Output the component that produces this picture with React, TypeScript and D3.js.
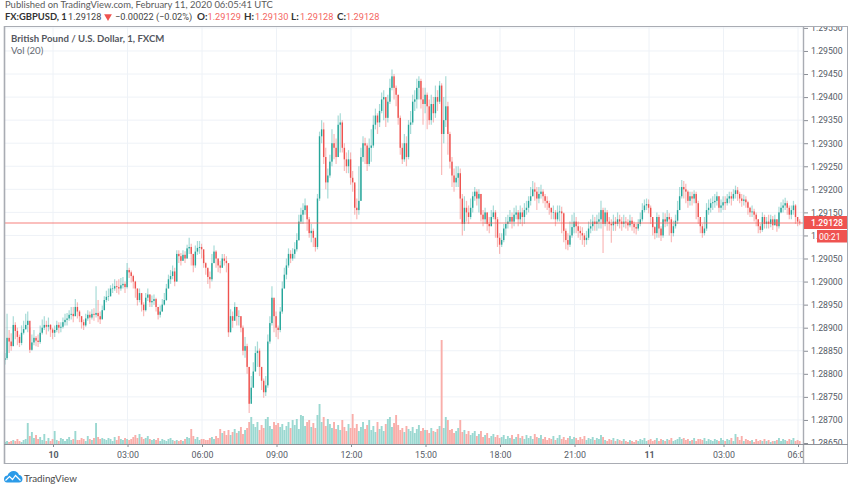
import React, { useEffect, useRef } from 'react';
import * as d3 from 'd3';

// 5 minute bars, in points above 1.28000
const closes = [
  834,878,870,860,906,893,880,867,889,897,906,915,852,868,878,872,869,889,900,906,902,906,896,889,
  895,906,900,902,912,917,920,928,930,925,945,935,
  925,912,905,920,928,922,930,928,932,925,918,938,
  960,967,968,985,985,990,988,985,992,995,988,1025,
  1020,1012,1000,985,960,975,950,938,965,972,955,958,
  962,945,928,935,950,960,985,1005,1012,1022,1000,1060,
  1055,1045,1058,1050,1072,1075,1060,1035,1065,1073,1075,1070,
  1040,1030,1010,1005,1040,1065,1050,1035,1030,1050,1045,1040,
  890,925,915,945,925,925,900,850,860,815,735,770,
  805,845,850,815,785,760,775,870,910,965,925,900,
  895,935,985,1015,1035,1060,1050,1060,1070,1090,1130,1145,
  1155,1165,1135,1105,1110,1095,1075,1180,1315,1330,1270,1215,
  1230,1260,1300,1290,1270,1340,1345,1290,1265,1250,1265,1225,
  1215,1160,1155,1175,1270,1300,1295,1255,1290,1295,1340,1360,
  1345,1370,1395,1400,1355,1390,1420,1445,1420,1405,1355,1290,
  1265,1300,1270,1340,1345,1390,1395,1420,1435,1395,1385,1405,
  1380,1350,1385,1365,1400,1390,1425,1320,1350,1380,1320,1260,
  1230,1215,1225,1235,1180,1125,1160,1150,1140,1160,1185,1195,
  1180,1190,1145,1135,1150,1125,1120,1140,1150,1135,1095,1080,
  1090,1115,1125,1130,1140,1130,1145,1150,1135,1150,1140,1155,
  1160,1175,1185,1200,1195,1180,1190,1195,1185,1175,1170,1160,
  1150,1150,1135,1150,1152,1148,1110,1090,1080,1100,1118,1130,
  1120,1110,1105,1100,1090,1095,1115,1120,1130,1125,1130,1135,
  1155,1125,1150,1130,1125,1122,1130,1125,1135,1130,1125,1130,
  1128,1122,1132,1125,1118,1115,1125,1135,1155,1165,1168,1160,
  1140,1118,1105,1140,1115,1100,1135,1130,1140,1135,1105,1120,
  1132,1155,1185,1205,1200,1195,1175,1185,1180,1190,1170,1140,
  1120,1105,1115,1155,1160,1170,1172,1175,1185,1160,1165,1172,
  1170,1180,1185,1180,1190,1198,1190,1180,1175,1178,1172,1160,
  1150,1152,1145,1135,1120,1112,1140,1125,1130,1125,1135,1122,
  1135,1120,1150,1160,1165,1170,1160,1145,1155,1165,1140,1130,1128,
];
const highs = [
  845,930,895,888,925,912,900,885,905,915,930,935,900,885,895,882,885,905,918,925,915,922,908,900,
  905,915,912,912,922,930,932,938,945,945,962,955,
  938,925,918,930,938,935,940,942,990,960,935,948,
  968,980,985,992,996,1005,1002,1005,1008,1010,1000,1040,
  1030,1024,1015,1002,985,985,975,955,975,985,972,970,
  972,965,945,948,962,975,995,1015,1025,1035,1030,1068,
  1068,1062,1068,1066,1080,1095,1082,1060,1078,1088,1088,1082,
  1058,1042,1028,1022,1060,1078,1068,1050,1045,1060,1060,1055,
  960,940,935,955,945,938,925,905,880,865,815,795,
  825,860,870,855,815,790,795,885,925,990,960,935,
  905,945,1000,1030,1050,1072,1068,1072,1085,1105,1145,1160,
  1170,1180,1165,1140,1125,1115,1095,1190,1325,1350,1345,1290,
  1245,1275,1330,1320,1310,1360,1365,1350,1300,1280,1285,1280,
  1240,1210,1180,1250,1290,1315,1312,1300,1310,1330,1360,1375,
  1365,1385,1410,1415,1395,1405,1440,1460,1450,1425,1405,1360,
  1300,1320,1315,1350,1370,1405,1415,1440,1445,1440,1420,1420,
  1410,1395,1405,1400,1425,1415,1435,1430,1400,1445,1390,1325,
  1270,1245,1250,1250,1245,1190,1185,1175,1165,1180,1195,1205,
  1200,1200,1190,1155,1160,1150,1140,1155,1165,1155,1140,1105,
  1105,1125,1140,1145,1155,1150,1160,1165,1155,1165,1160,1170,
  1175,1185,1205,1218,1215,1205,1205,1210,1200,1190,1185,1175,
  1160,1165,1155,1165,1165,1162,1150,1115,1105,1130,1145,1150,
  1140,1130,1120,1118,1105,1110,1130,1135,1145,1140,1145,1150,
  1175,1160,1160,1155,1140,1135,1145,1140,1150,1145,1140,1145,
  1140,1135,1145,1140,1130,1125,1135,1150,1170,1178,1180,1178,
  1165,1135,1120,1150,1145,1120,1150,1148,1155,1148,1140,1132,
  1145,1175,1205,1220,1218,1212,1198,1195,1195,1198,1195,1175,
  1135,1125,1140,1170,1178,1180,1185,1190,1195,1185,1178,1185,
  1185,1190,1195,1195,1200,1208,1205,1195,1190,1188,1185,1175,
  1162,1165,1158,1150,1135,1125,1150,1145,1140,1145,1145,1142,
  1145,1135,1162,1172,1178,1182,1175,1165,1165,1175,1168,1140,1135,
];
const lows = [
  820,830,845,850,860,875,862,858,862,885,895,890,845,850,862,860,858,865,885,895,885,892,880,875,
  880,890,888,890,898,905,905,915,918,912,925,920,
  912,898,895,902,915,908,918,915,922,912,908,920,
  938,955,958,968,975,980,975,972,980,985,975,985,
  1008,998,985,965,948,955,935,925,935,958,945,945,
  950,935,918,922,935,948,958,985,995,1005,990,1000,
  1040,1035,1045,1040,1050,1060,1035,1020,1030,1058,1060,1050,
  1030,1015,995,985,1000,1040,1030,1020,1018,1030,1035,1020,
  880,895,900,925,905,905,890,840,835,800,715,745,
  770,805,815,795,765,748,752,770,865,905,890,880,
  875,890,930,985,1005,1030,1040,1045,1050,1065,1088,1125,
  1125,1145,1110,1095,1085,1075,1065,1070,1175,1300,1255,1200,
  1180,1225,1250,1265,1255,1270,1280,1280,1240,1235,1235,1210,
  1195,1145,1135,1145,1175,1260,1255,1240,1250,1260,1290,1330,
  1320,1335,1365,1350,1335,1345,1385,1415,1395,1380,1340,1275,
  1255,1260,1250,1265,1320,1340,1370,1375,1395,1375,1340,1365,
  1330,1340,1340,1345,1355,1370,1385,1231,1300,1335,1275,1245,
  1205,1195,1205,1205,1135,1100,1110,1130,1125,1135,1150,1175,
  1165,1150,1130,1120,1125,1110,1105,1120,1135,1095,1075,1060,
  1075,1085,1100,1115,1125,1115,1120,1135,1120,1125,1120,1125,
  1145,1150,1165,1185,1175,1155,1170,1180,1170,1160,1155,1145,
  1135,1135,1120,1130,1130,1105,1085,1070,1068,1075,1095,1105,
  1105,1095,1090,1080,1075,1080,1090,1105,1110,1110,1110,1115,
  1115,1062,1120,1110,1110,1084,1110,1110,1120,1115,1110,1118,
  1115,1110,1118,1110,1105,1102,1110,1120,1130,1150,1155,1148,
  1125,1100,1092,1095,1095,1088,1095,1118,1120,1100,1085,1098,
  1115,1125,1155,1180,1180,1170,1160,1165,1165,1170,1135,1125,
  1105,1095,1100,1110,1145,1150,1155,1160,1165,1150,1150,1155,
  1155,1165,1170,1165,1175,1180,1175,1170,1162,1165,1160,1145,
  1140,1140,1130,1120,1105,1105,1108,1115,1115,1115,1118,1112,
  1122,1108,1115,1148,1150,1155,1145,1135,1135,1145,1125,1120,1122,
];
const volumes = [
  2,3,2,3,4,3,5,3,2,4,5,21,8,12,6,9,5,7,4,10,3,6,3,5,
  13,4,3,6,5,3,5,7,4,5,13,4,
  4,6,5,3,8,5,4,6,21,7,5,6,
  5,4,6,5,3,7,4,8,5,4,6,5,
  4,5,7,9,6,10,7,5,6,8,5,4,
  5,4,6,3,5,4,3,5,6,4,3,4,
  3,4,3,5,7,6,15,8,5,7,4,5,
  5,4,4,6,7,5,8,6,15,11,13,9,
  14,9,12,15,11,13,17,10,14,16,22,27,
  20,17,22,14,19,16,25,27,18,15,22,19,
  21,17,20,14,18,22,16,24,19,25,15,29,
  28,18,22,24,17,21,16,29,40,22,27,18,
  25,20,16,22,15,19,14,24,17,13,20,16,
  30,16,20,13,17,22,15,19,24,14,18,12,
  22,15,18,13,20,25,27,17,21,29,19,14,
  16,12,18,15,13,17,11,15,19,13,16,14,
  14,11,16,13,12,15,18,104,16,27,24,14,
  15,11,13,16,24,12,14,10,13,9,11,13,
  8,10,13,7,9,11,6,8,10,7,9,6,
  7,9,5,8,6,9,5,7,10,6,8,5,
  9,6,8,5,10,7,6,9,5,7,4,6,
  5,8,4,6,9,5,7,4,6,8,5,7,
  6,4,7,5,8,4,6,5,7,4,6,5,
  9,7,4,3,5,4,6,3,5,4,3,5,
  3,2,4,3,2,4,3,5,4,6,3,4,
  5,3,4,6,3,5,4,3,5,4,6,3,
  4,5,7,5,6,4,5,3,4,6,3,5,
  5,4,6,3,5,4,3,5,4,3,6,4,
  3,5,4,6,3,10,7,4,8,3,5,4,
  3,4,2,5,3,4,3,5,3,4,2,3,
  3,4,6,3,5,4,3,5,4,6,3,4,3,
];
const firstOpen = 830;

const priceTicks = [
  1.2865, 1.287, 1.2875, 1.288, 1.2885, 1.289, 1.2895, 1.29, 1.2905, 1.291,
  1.2915, 1.292, 1.2925, 1.293, 1.2935, 1.294, 1.2945, 1.295, 1.2955,
];
const timeTicks = [
  Date.UTC(2020, 1, 10, 0), Date.UTC(2020, 1, 10, 3), Date.UTC(2020, 1, 10, 6),
  Date.UTC(2020, 1, 10, 9), Date.UTC(2020, 1, 10, 12), Date.UTC(2020, 1, 10, 15),
  Date.UTC(2020, 1, 10, 18), Date.UTC(2020, 1, 10, 21), Date.UTC(2020, 1, 11, 0),
  Date.UTC(2020, 1, 11, 3), Date.UTC(2020, 1, 11, 6),
];
const firstBar = Date.UTC(2020, 1, 9, 22, 4);
const barMs = 5 * 60 * 1000;
const lastPrice = 1.29128;

const upColor = '#26a69a';
const downColor = '#ef5350';
const font = 'Lato, sans-serif';
const numFont = 'Roboto, sans-serif';
const axisText = '#555b66';

const App = () => {
  const ref = useRef<SVGSVGElement>(null);

  useEffect(() => {
    const svg = d3.select(ref.current);
    svg.selectAll('*').remove();

    const x = d3.scaleUtc()
      .domain([new Date(timeTicks[0]), new Date(timeTicks[10])])
      .range([53, 798]);
    const y = d3.scaleLinear().domain([1.2865, 1.2955]).range([443, 27.9]);
    const vol = d3.scaleLinear().domain([0, 104]).range([444, 340]);
    const price = (p: number) => y(1.28 + p / 100000);

    const defs = svg.append('defs');
    defs.append('clipPath').attr('id', 'pane').append('rect')
      .attr('x', 5).attr('y', 27).attr('width', 798).attr('height', 417);
    defs.append('clipPath').attr('id', 'priceAxisLocal').append('rect')
      .attr('x', 0).attr('y', 27).attr('width', 43).attr('height', 417);
    defs.append('clipPath').attr('id', 'timeAxis').append('rect')
      .attr('x', 5).attr('y', 445).attr('width', 798).attr('height', 18);
    defs.append('filter').attr('id', 'soft').append('feGaussianBlur').attr('stdDeviation', 0.35);

    // grid
    const grid = svg.append('g').attr('stroke', '#eef2f7').attr('stroke-width', 1);
    grid.selectAll('line.h').data(priceTicks).enter().append('line')
      .attr('x1', 5).attr('x2', 803)
      .attr('y1', d => y(d)).attr('y2', d => y(d));
    grid.selectAll('line.v').data(timeTicks).enter().append('line')
      .attr('y1', 27).attr('y2', 444)
      .attr('x1', d => x(new Date(d))).attr('x2', d => x(new Date(d)));

    const bars = closes.map((c, i) => ({
      t: new Date(firstBar + i * barMs),
      open: i === 0 ? firstOpen : closes[i - 1],
      close: c,
      high: highs[i],
      low: lows[i],
      volume: volumes[i],
    }));
    const colorOf = (d: { open: number; close: number }) => (d.close >= d.open ? upColor : downColor);

    const pane = svg.append('g').attr('clip-path', 'url(#pane)').append('g').attr('filter', 'url(#soft)');

    // volume
    pane.append('g').selectAll('rect').data(bars).enter().append('rect')
      .attr('x', d => x(d.t) - 0.95)
      .attr('width', 1.9)
      .attr('y', d => vol(d.volume))
      .attr('height', d => 444 - vol(d.volume))
      .attr('fill', d => (d.close >= d.open ? '#9bd8d1' : '#f9aeaa'));

    // candles
    pane.append('g').selectAll('line').data(bars).enter().append('line')
      .attr('x1', d => x(d.t)).attr('x2', d => x(d.t))
      .attr('y1', d => price(d.high)).attr('y2', d => price(d.low))
      .attr('stroke', colorOf)
      .attr('stroke-opacity', 0.4)
      .attr('stroke-width', 1.2);
    pane.append('g').selectAll('rect').data(bars).enter().append('rect')
      .attr('x', d => x(d.t) - 0.7)
      .attr('width', 1.4)
      .attr('y', d => Math.min(price(d.open), price(d.close)))
      .attr('height', d => Math.max(0.6, Math.abs(price(d.open) - price(d.close))))
      .attr('fill', colorOf);

    // last price line, straddles two pixel rows so it stays pale red
    const lastY = Math.round(y(lastPrice));
    svg.append('line')
      .attr('x1', 5).attr('x2', 803)
      .attr('y1', lastY).attr('y2', lastY)
      .attr('stroke', '#f4605a').attr('stroke-opacity', 0.8).attr('stroke-width', 1);

    // axes
    const priceAxis = svg.append('g')
      .attr('transform', 'translate(804,0)')
      .attr('clip-path', 'url(#priceAxisLocal)')
      .call(d3.axisRight(y).tickValues(priceTicks).tickFormat(d3.format('.5f')).tickSize(4).tickPadding(3));
    priceAxis.select('.domain').remove();
    priceAxis.selectAll('line').attr('stroke', '#8b8f96');
    priceAxis.selectAll('text').attr('font-family', numFont).attr('font-size', 8.7).attr('fill', axisText);

    const labelOf = (d: number) => {
      const dt = new Date(d);
      return dt.getUTCHours() === 0 ? String(dt.getUTCDate()) : d3.utcFormat('%H:%M')(dt);
    };
    const timeAxis = svg.append('g').attr('clip-path', 'url(#timeAxis)').append('g')
      .attr('transform', 'translate(0,444)')
      .call(d3.axisBottom(x).tickValues(timeTicks.map(d => new Date(d))).tickFormat(d => labelOf(+d)).tickSize(3).tickPadding(5));
    timeAxis.select('.domain').remove();
    timeAxis.selectAll('line').attr('stroke', '#8b8f96');
    timeAxis.selectAll('text')
      .attr('font-family', numFont).attr('font-size', 8.9).attr('fill', axisText)
      .attr('font-weight', d => (new Date(d as Date).getUTCHours() === 0 ? 700 : 400));

    // frame
    const frame = svg.append('g').attr('fill', 'none').attr('stroke', '#a9acb3');
    frame.append('rect').attr('x', 4.5).attr('y', 26.5).attr('width', 843).attr('height', 437).attr('stroke-width', 1);
    frame.append('line').attr('x1', 4.5).attr('x2', 4.5).attr('y1', 26).attr('y2', 464).attr('stroke-width', 1.6);
    frame.append('line').attr('x1', 803.5).attr('x2', 803.5).attr('y1', 26).attr('y2', 464).attr('stroke-width', 1.4);
    frame.append('line').attr('x1', 4).attr('x2', 848).attr('y1', 444.5).attr('y2', 444.5).attr('stroke', '#8f9299');

    // price tags
    const tags = svg.append('g').attr('font-family', numFont).attr('font-size', 8.7).attr('fill', '#fff');
    tags.append('rect').attr('x', 804).attr('y', 216).attr('width', 43).attr('height', 13).attr('fill', '#ef5350');
    tags.append('text').attr('x', 811).attr('y', 225.8).attr('font-weight', 500).text(d3.format('.5f')(lastPrice));
    tags.append('rect').attr('x', 817).attr('y', 230).attr('width', 30).attr('height', 12.5).attr('fill', '#ef5350');
    tags.append('text').attr('x', 819).attr('y', 239.6).text('00:21');

    // header text
    const txt = (s: string, tx: number, ty: number, fill: string, weight = 400, size = 9.45, family = font) =>
      svg.append('text').attr('x', tx).attr('y', ty).attr('font-family', family)
        .attr('font-size', size).attr('font-weight', weight).attr('fill', fill).text(s);

    txt('Published on TradingView.com, February 11, 2020 06:05:41 UTC', 5, 7.5, '#5b5b5b');
    txt('FX:GBPUSD, 1', 5, 20, '#333', 700, 9.4);
    txt('1.29128', 68, 20, '#444', 400, 9.2, numFont);
    svg.append('path')
      .attr('d', d3.symbol(d3.symbolTriangle, 26)())
      .attr('fill', '#ef5350')
      .attr('transform', 'translate(108,16.5) rotate(180)');
    txt('\u22120.00022 (\u22120.02%)', 115, 20, '#444', 400, 9.2, numFont);
    const ohlc: [string, string, number, number][] = [
      ['O:', '1.29129', 197, 207.5],
      ['H:', '1.29130', 244, 255],
      ['L:', '1.29128', 291, 300],
      ['C:', '1.29128', 337, 346],
    ];
    ohlc.forEach(([k, v, kx, vx]) => {
      txt(k, kx, 20, '#333', 700, 9.9);
      txt(v, vx, 20, '#f4665f', 400, 9.2, numFont);
    });
    txt('British Pound / U.S. Dollar, 1, FXCM', 11, 42, '#55585f', 700, 9.6);
    txt('Vol (20)', 11, 54, '#666a72', 400, 9.6);

    // footer logo
    const logo = svg.append('g').attr('transform', 'translate(4,471)');
    logo.append('path')
      .attr('d', 'M0 8 C0 5.5 2 4.5 3.5 4.5 C4.5 1.5 7 0 9.5 0 C12.5 0 14.5 2 15 4 C17 4 18.5 6 18.5 8 C18.5 10.5 17 11.5 15 11.5 L3 11.5 C1 11.5 0 10 0 8 Z')
      .attr('fill', '#2c9be8');
    logo.append('path')
      .attr('d', 'M1.5 9.5 L5.5 5.5 L8.5 8.5 L11.5 4.5 L16.5 9.5')
      .attr('fill', 'none').attr('stroke', '#fff').attr('stroke-width', 1.2);
    txt('TradingView', 24, 481.5, '#4a4a4a', 400, 9.8);
  }, []);

  return <svg ref={ref} width={852} height={485} style={{ position: 'absolute', left: 0, top: 0, display: 'block', background: '#fff' }} />;
};

export default App;
